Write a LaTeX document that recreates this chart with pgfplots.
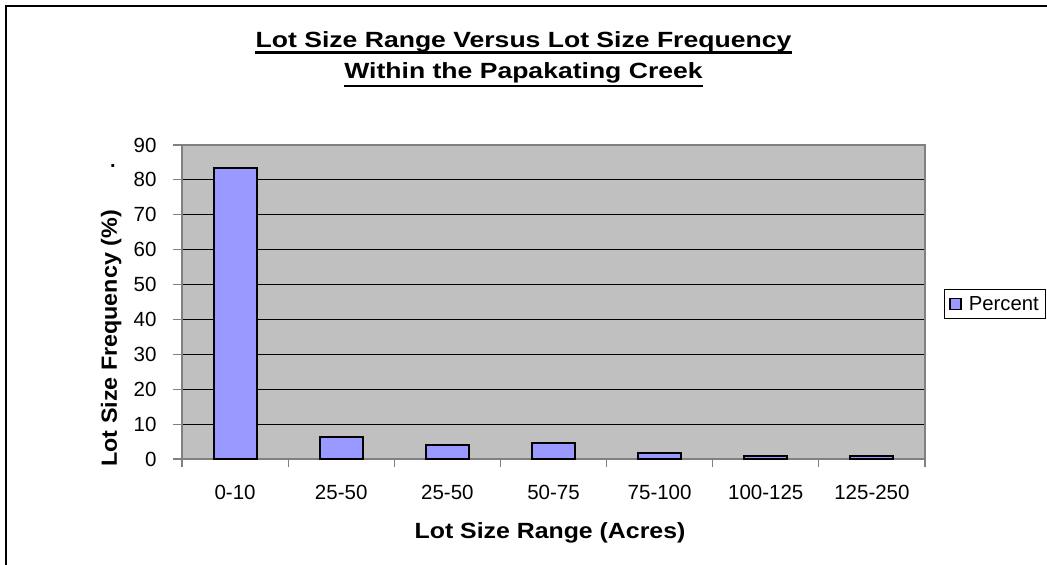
\documentclass[border=0pt]{standalone}
\usepackage{pgfplots}
\pgfplotsset{compat=1.18}
\usetikzlibrary{calc}
\usepackage{fontspec}
\setmainfont{Liberation Sans}
\definecolor{barblue}{HTML}{9999FF}
\definecolor{plotgray}{HTML}{C0C0C0}
\definecolor{framegray}{HTML}{808080}
\begin{document}
\begin{tikzpicture}[x=1pt,y=1pt]
\begin{axis}[
  at={(0,0)}, anchor=south west,
  width=743pt, height=314pt, scale only axis,
  xmin=-0.5, xmax=6.5, ymin=0, ymax=90,
  ytick={0,10,...,90},
  xtick={0,1,2,3,4,5,6},
  xticklabels={0-10,25-50,25-50,50-75,75-100,100-125,125-250},
  major x tick style={draw=none},
  minor xtick={-0.5,0.5,1.5,2.5,3.5,4.5,5.5,6.5},
  xtick pos=bottom, ytick pos=left,
  tick align=outside,
  major tick length=9pt, minor tick length=8pt,
  every tick/.style={framegray, line width=1.2pt},
  axis background/.style={fill=plotgray},
  axis line style={framegray, line width=1.5pt},
  ymajorgrids, grid style={black, line width=0.9pt},
  tick label style={font=\fontsize{20.5}{24}\selectfont},
  /pgf/number format/assume math mode=true,
  xticklabel style={yshift=-14pt},
  yticklabel style={xshift=-13pt},
  xlabel={\textbf{Lot Size Range (Acres)}},
  ylabel={\textbf{Lot Size Frequency (\%)}},
  label style={font=\fontsize{22}{26}\selectfont},
  xlabel style={at={(axis description cs:0.4953,0)}, anchor=base, yshift=-79pt, xscale=1.13},
  ylabel style={at={(axis description cs:-0.0875,0.384)}, anchor=base, xscale=1.06},
  legend style={at={(1.02557,0.4459)}, anchor=south west, draw=black, fill=white, line width=0.8pt,
    font=\fontsize{20.3}{24}\selectfont, inner xsep=5pt, inner ysep=5pt,
    /tikz/every odd column/.append style={column sep=5pt}},
  legend cell align=left,
  legend image code/.code={\draw[fill=barblue, draw=black, line width=1.5pt] (2pt,-5.5pt) rectangle (13pt,5.5pt);},
  clip=false,
]
\addplot[ybar, bar width=43pt, fill=barblue, draw=black, line width=2pt]
  coordinates {(0,83.3) (1,6.2) (2,3.9) (3,4.6) (4,1.6) (5,0.9) (6,1.0)};
\addlegendentry{Percent}
\coordinate (pa) at (rel axis cs:0,0);
\end{axis}
\pgfresetboundingbox
\begin{scope}[shift={($(pa)+(-182,-106)$)}]
\path[use as bounding box] (0,0) rectangle (1047,565);
\draw[line width=2pt] (6,0) -- (6,559) -- (1047,559);
\node[inner sep=0pt, anchor=base, font=\fontsize{22}{26}\selectfont\bfseries, xscale=1.207] (t1) at (523.5,517) {Lot Size Range Versus Lot Size Frequency};
\node[inner sep=0pt, anchor=base, font=\fontsize{22}{26}\selectfont\bfseries, xscale=1.207] (t2) at (523.5,486) {Within the Papakating Creek};
\draw[line width=2.5pt] ($(t1.base west)+(0,-4.5)$) -- ($(t1.base east)+(0,-4.5)$);
\draw[line width=2.5pt] ($(t2.base west)+(0,-7)$) -- ($(t2.base east)+(0,-7)$);
\node[anchor=base, inner sep=0pt, font=\fontsize{20}{24}\selectfont\bfseries] at (113,397) {.};
\end{scope}
\end{tikzpicture}
\end{document}
